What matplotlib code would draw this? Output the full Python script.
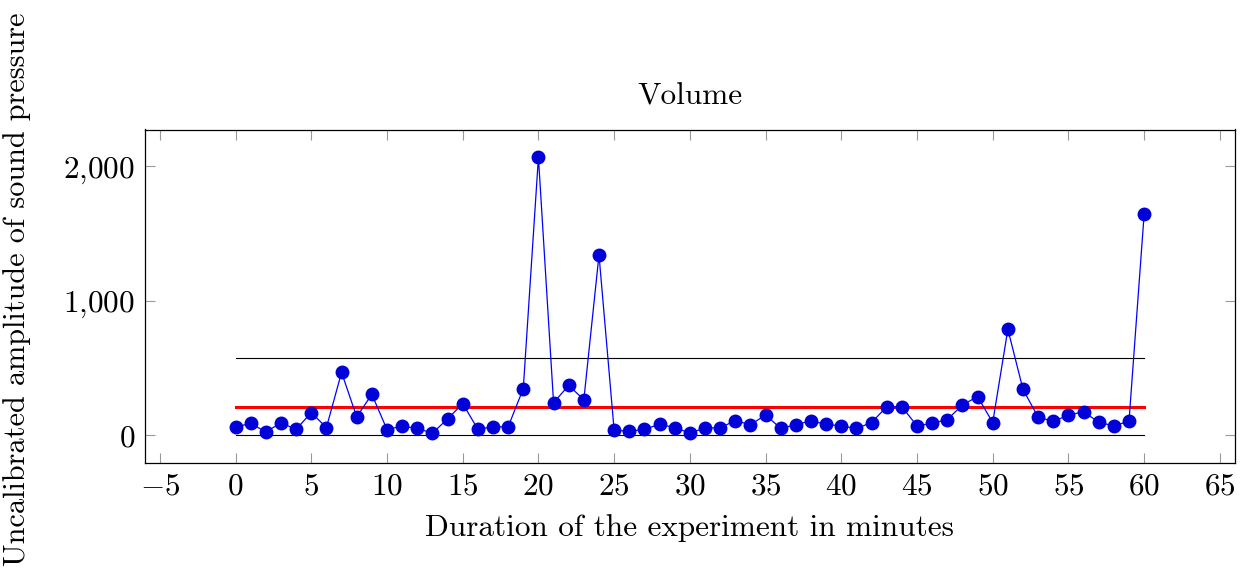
import matplotlib
matplotlib.use("Agg")
import matplotlib.pyplot as plt
from matplotlib.ticker import FuncFormatter, MultipleLocator

plt.rcParams['font.family'] = 'cmr10'
plt.rcParams['mathtext.fontset'] = 'cm'
plt.rcParams['axes.unicode_minus'] = False

minutes = list(range(61))
amplitude = [62, 87, 25, 91, 44, 168, 57, 467, 136, 304,
             42, 67, 50, 15, 121, 235, 44, 62, 62, 346,
             2067, 242, 370, 264, 1341, 37, 28, 44, 81, 57,
             15, 54, 54, 109, 77, 151, 50, 79, 106, 81,
             69, 50, 94, 212, 212, 69, 89, 116, 225, 287,
             94, 788, 341, 133, 104, 148, 175, 96, 69, 104,
             1644]
mean_level = 211
upper_level = 574
lower_level = 0

fig = plt.figure(figsize=(12.53, 5.87), dpi=100)
ax = fig.add_axes([144.7/1253, 1 - 463/587, (1235 - 144.7)/1253, (463 - 129.5)/587])

ax.plot(minutes, amplitude, color='blue', lw=0.9, marker='o', ms=9,
        mfc=(0, 0, 0.85), mec=(0, 0, 0.85), zorder=3)
ax.plot([minutes[0], minutes[-1]], [mean_level, mean_level], color='red', lw=2.2, zorder=2)
ax.plot([minutes[0], minutes[-1]], [upper_level, upper_level], color='black', lw=0.8, zorder=1)
ax.plot([minutes[0], minutes[-1]], [lower_level, lower_level], color='black', lw=0.8, zorder=1)

ax.set_xlim(-6, 66)
ax.set_ylim(-207, 2274)
ax.xaxis.set_major_locator(MultipleLocator(5))
ax.yaxis.set_major_locator(MultipleLocator(1000))

def fmt(v, pos):
    s = f"{int(round(v)):,}".replace(",", "{,}")
    return f"${s}$"

ax.xaxis.set_major_formatter(FuncFormatter(fmt))
ax.yaxis.set_major_formatter(FuncFormatter(fmt))
ax.tick_params(direction='in', length=7, width=0.8, color='#999999',
               labelsize=22.5, top=True, right=True, pad=7)
for sp in ax.spines.values():
    sp.set_linewidth(0.9)

ax.set_title('Volume', fontsize=22.5, pad=18)
ax.set_xlabel('Duration of the experiment in minutes', fontsize=22.5, labelpad=10)
ax.set_ylabel('Uncalibrated amplitude of sound pressure', fontsize=21.8)
ax.yaxis.set_label_coords(-0.104, 0.52)

fig.savefig('out.png', dpi=100)
